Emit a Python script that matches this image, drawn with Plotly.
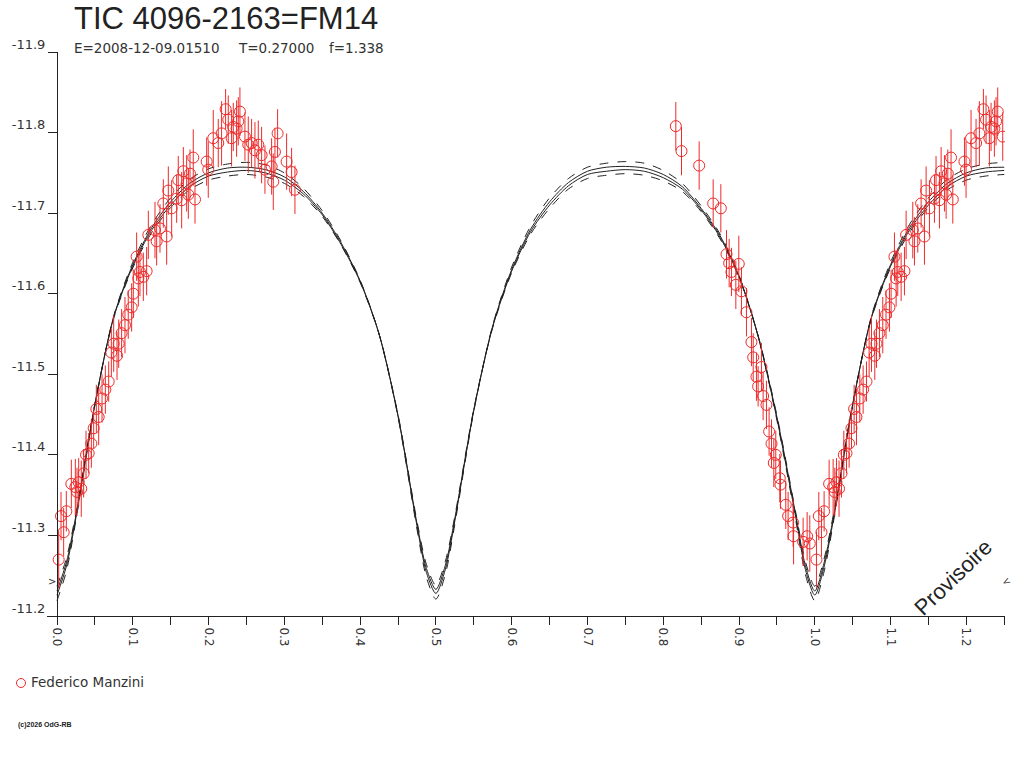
import plotly.graph_objects as go

# observations (phase, magnitude, error) - Federico Manzini
obs_phase = [
    0.0022, 0.0053, 0.0088, 0.0123, 0.0189, 0.0242, 0.0264, 0.0286, 0.0320, 0.0352,
    0.0383, 0.0418, 0.0453, 0.0484, 0.0519, 0.0550, 0.0594, 0.0638, 0.0682, 0.0717,
    0.0748, 0.0792, 0.0814, 0.0853, 0.0897, 0.0940, 0.0985, 0.1007, 0.1051, 0.1073,
    0.1095, 0.1139, 0.1183, 0.1205, 0.1293, 0.1315, 0.1359, 0.1403, 0.1447, 0.1469,
    0.1513, 0.1579, 0.1600, 0.1645, 0.1667, 0.1711, 0.1733, 0.1755, 0.1798, 0.1821,
    0.1975, 0.1996, 0.2062, 0.2128, 0.2172, 0.2225, 0.2260, 0.2304, 0.2326, 0.2370,
    0.2392, 0.2414, 0.2480, 0.2524, 0.2568, 0.2612, 0.2656, 0.2700, 0.2744, 0.2832,
    0.2854, 0.2876, 0.2911, 0.3030, 0.3096, 0.3140,
    0.8166, 0.8241, 0.8474, 0.8659, 0.8760, 0.8835, 0.8870, 0.8900, 0.8958, 0.8997,
    0.9032, 0.9098, 0.9164, 0.9187, 0.9230, 0.9252, 0.9296, 0.9318, 0.9362, 0.9397,
    0.9429, 0.9459, 0.9485, 0.9538, 0.9547, 0.9617, 0.9648, 0.9714, 0.9720, 0.9846,
    0.9899, 0.9934,
]
obs_mag = [
    -11.270, -11.324, -11.304, -11.330, -11.364, -11.360, -11.354, -11.366, -11.358, -11.377,
    -11.400, -11.402, -11.414, -11.433, -11.457, -11.447, -11.470, -11.481, -11.491, -11.527,
    -11.538, -11.523, -11.538, -11.551, -11.561, -11.574, -11.583, -11.600, -11.646, -11.619,
    -11.627, -11.621, -11.628, -11.673, -11.679, -11.665, -11.681, -11.712, -11.671, -11.728,
    -11.706, -11.718, -11.741, -11.716, -11.752, -11.737, -11.723, -11.749, -11.769, -11.717,
    -11.764, -11.754, -11.793, -11.787, -11.799, -11.829, -11.816, -11.793, -11.807, -11.805,
    -11.814, -11.826, -11.795, -11.785, -11.787, -11.778, -11.785, -11.772, -11.754, -11.758,
    -11.739, -11.776, -11.799, -11.764, -11.751, -11.729,
    -11.808, -11.777, -11.759, -11.712, -11.706, -11.649, -11.638, -11.627, -11.611, -11.637,
    -11.603, -11.577, -11.540, -11.521, -11.497, -11.485, -11.509, -11.473, -11.462, -11.429,
    -11.414, -11.390, -11.400, -11.371, -11.363, -11.338, -11.324, -11.316, -11.299, -11.292,
    -11.299, -11.290,
]
obs_err = [
    0.035, 0.030, 0.030, 0.025, 0.030, 0.035, 0.030, 0.030, 0.035, 0.030,
    0.030, 0.025, 0.030, 0.025, 0.030, 0.035, 0.030, 0.030, 0.025, 0.030,
    0.035, 0.030, 0.030, 0.030, 0.035, 0.030, 0.030, 0.030, 0.030, 0.035,
    0.030, 0.030, 0.030, 0.030, 0.035, 0.030, 0.030, 0.030, 0.035, 0.030,
    0.035, 0.030, 0.030, 0.035, 0.030, 0.035, 0.030, 0.030, 0.035, 0.030,
    0.030, 0.035, 0.035, 0.030, 0.040, 0.025, 0.030, 0.035, 0.030, 0.035,
    0.030, 0.030, 0.030, 0.035, 0.030, 0.035, 0.030, 0.035, 0.030, 0.035,
    0.035, 0.030, 0.030, 0.035, 0.030, 0.030,
    0.030, 0.030, 0.030, 0.030, 0.030, 0.030, 0.030, 0.030, 0.030, 0.035,
    0.030, 0.030, 0.030, 0.030, 0.030, 0.025, 0.030, 0.030, 0.030, 0.030,
    0.030, 0.030, 0.030, 0.030, 0.030, 0.030, 0.030, 0.030, 0.035, 0.030,
    0.030, 0.035,
]

# model light curves, phase 0..1
model_phase = [
    0.0, 0.0125, 0.025, 0.05, 0.075, 0.1, 0.125, 0.15, 0.175, 0.2, 0.225, 0.25,
    0.275, 0.3, 0.325, 0.35, 0.375, 0.4, 0.425, 0.45, 0.475, 0.4875, 0.5, 0.5125,
    0.525, 0.55, 0.575, 0.6, 0.625, 0.65, 0.675, 0.7, 0.725, 0.75, 0.775, 0.8,
    0.825, 0.85, 0.875, 0.9, 0.925, 0.95, 0.975, 0.9875, 1.0,
]
model_a = [
    -11.226, -11.262, -11.322, -11.462, -11.572, -11.636, -11.682, -11.714, -11.737, -11.750,
    -11.756, -11.757, -11.754, -11.745, -11.727, -11.700, -11.663, -11.616, -11.550, -11.448,
    -11.312, -11.254, -11.228, -11.258, -11.318, -11.455, -11.560, -11.630, -11.680, -11.714,
    -11.738, -11.752, -11.757, -11.758, -11.756, -11.748, -11.733, -11.706, -11.672, -11.622,
    -11.548, -11.445, -11.322, -11.258, -11.226,
]
model_b = [
    -11.219, -11.256, -11.319, -11.461, -11.573, -11.639, -11.686, -11.719, -11.742, -11.755,
    -11.761, -11.763, -11.760, -11.750, -11.731, -11.703, -11.665, -11.617, -11.550, -11.447,
    -11.308, -11.248, -11.221, -11.252, -11.314, -11.454, -11.561, -11.633, -11.684, -11.719,
    -11.743, -11.757, -11.762, -11.764, -11.762, -11.753, -11.737, -11.709, -11.674, -11.623,
    -11.548, -11.443, -11.318, -11.252, -11.219,
]
model_c = [
    -11.231, -11.267, -11.325, -11.463, -11.571, -11.634, -11.679, -11.710, -11.733, -11.746,
    -11.751, -11.753, -11.750, -11.741, -11.724, -11.698, -11.661, -11.615, -11.550, -11.449,
    -11.315, -11.259, -11.233, -11.263, -11.321, -11.456, -11.559, -11.628, -11.677, -11.710,
    -11.734, -11.748, -11.752, -11.754, -11.752, -11.744, -11.730, -11.704, -11.670, -11.621,
    -11.548, -11.447, -11.325, -11.263, -11.231,
]
model_d = [
    -11.237, -11.272, -11.328, -11.464, -11.570, -11.632, -11.676, -11.707, -11.729, -11.741,
    -11.746, -11.748, -11.745, -11.737, -11.721, -11.696, -11.660, -11.614, -11.550, -11.450,
    -11.318, -11.264, -11.238, -11.268, -11.324, -11.457, -11.558, -11.626, -11.674, -11.706,
    -11.730, -11.743, -11.747, -11.749, -11.747, -11.740, -11.727, -11.702, -11.668, -11.620,
    -11.549, -11.449, -11.328, -11.268, -11.237,
]

y_ticks = [-11.9, -11.8, -11.7, -11.6, -11.5, -11.4, -11.3, -11.2]
y_labels = ['-11.9', '-11.8', '-11.7', '-11.6', '-11.5', '-11.4', '-11.3', '-11.2']

X_MAX = 1.25
INK = '#222222'
RED = '#ee2a2a'
SANS = 'DejaVu Sans, Verdana, sans-serif'
ARIAL = 'Liberation Sans, Arial, sans-serif'

# plot box in page pixels
PL, PR, PT, PB = 47, 1005, 52, 616


def px(x):
    return (x - PL) / (PR - PL)


def py(y):
    return (PB - y) / (PB - PT)


def wrap(phase, *cols):
    """Repeat phases 0..0.25 after 1.0, like the folded light-curve plot."""
    xs = list(phase)
    out = [list(c) for c in cols]
    top = max(phase)
    for i, p in enumerate(phase):
        if p + 1 <= X_MAX and p + 1 > top:
            xs.append(p + 1)
            for o, c in zip(out, cols):
                o.append(c[i])
    return xs, out


fig = go.Figure()

mx, (ma, mb, mc, md) = wrap(model_phase, model_a, model_b, model_c, model_d)
for ys, dash in [(ma, 'solid'), (mc, 'solid'), (mb, 'dash'), (md, 'dash')]:
    fig.add_trace(go.Scatter(
        x=mx, y=ys, mode='lines',
        line=dict(color=INK, width=1, dash=dash, shape='spline', smoothing=0.8),
        showlegend=False, hoverinfo='skip'))

ox, (om, oe) = wrap(obs_phase, obs_mag, obs_err)
fig.add_trace(go.Scatter(
    x=ox, y=om, mode='markers', name='Federico Manzini',
    marker=dict(symbol='circle-open', size=11, color=RED, line=dict(width=1, color=RED)),
    error_y=dict(type='data', array=oe, visible=True, color=RED, thickness=1, width=0),
    showlegend=False))

fig.update_layout(
    width=1024, height=768,
    margin=dict(l=PL, r=1024 - PR, t=PT, b=768 - PB, autoexpand=False),
    paper_bgcolor='white', plot_bgcolor='white',
    font=dict(family=SANS, color=INK, size=13),
    xaxis=dict(range=[-0.0132, 1.251], showgrid=False, zeroline=False, automargin=False,
               showline=True, linecolor=INK, linewidth=1,
               ticks='outside', ticklen=8, tickcolor=INK, dtick=0.1, tick0=0,
               tickformat='.1f', tickangle=90, tickfont=dict(family=SANS, size=12, color='#333'),
               minor=dict(dtick=0.05, tick0=0, ticks='outside', ticklen=8, tickcolor=INK)),
    yaxis=dict(range=[-11.2, -11.9], showgrid=False, zeroline=False, automargin=False,
               anchor='free', position=px(57),
               showline=True, linecolor=INK, linewidth=1,
               ticks='outside', ticklen=9, tickcolor=INK,
               tickvals=y_ticks, ticktext=y_labels, ticklabelstandoff=0, ticklabelshift=8,
               tickfont=dict(family=SANS, size=13, color='#333')),
    showlegend=False,
)

fig.add_annotation(text='TIC 4096-2163=FM14', xref='paper', yref='paper',
                   x=px(73), y=py(19), xanchor='left', yanchor='middle', borderpad=0,
                   showarrow=False, font=dict(family=ARIAL, size=31, color=INK))
for txt, x0 in [('E=2008-12-09.01510', 73), ('T=0.27000', 237), ('f=1.338', 328)]:
    fig.add_annotation(text=txt, xref='paper', yref='paper', borderpad=0,
                       x=px(x0), y=py(48), xanchor='left', yanchor='middle',
                       showarrow=False, font=dict(family=SANS, size=13.5, color='#333'))
fig.add_annotation(text='Provisoire', xref='paper', yref='paper',
                   x=px(953), y=py(577), xanchor='center', yanchor='middle',
                   textangle=-44, showarrow=False,
                   font=dict(family=ARIAL, size=22, color=INK))
fig.add_annotation(text='>', xref='paper', yref='y', x=px(52), y=-11.243,
                   xanchor='center', yanchor='middle',
                   showarrow=False, font=dict(size=10, color='#333'))
fig.add_annotation(text='<', xref='paper', yref='y', x=px(1006), y=-11.243,
                   xanchor='center', yanchor='middle', textangle=-30,
                   showarrow=False, font=dict(size=10, color='#333'))

# legend entry drawn by hand below the plot
fig.add_shape(type='circle', xref='paper', yref='paper',
              x0=px(16.5), x1=px(25.5), y0=py(687.5), y1=py(678.5),
              line=dict(color=RED, width=1))
fig.add_annotation(text='Federico Manzini', xref='paper', yref='paper', borderpad=0,
                   x=px(30), y=py(682), xanchor='left', yanchor='middle',
                   showarrow=False, font=dict(family=SANS, size=13.5, color='#333'))
fig.add_annotation(text='<b>(c)2026 OdG-RB</b>', xref='paper', yref='paper', borderpad=0,
                   x=px(17), y=py(725), xanchor='left', yanchor='middle',
                   showarrow=False, font=dict(family=ARIAL, size=7, color=INK))

# drop the default 8px page margin so the figure fills the window exactly
fig.write_html("out.html", config={'displayModeBar': False},
               post_script="document.body.style.margin='0';")
